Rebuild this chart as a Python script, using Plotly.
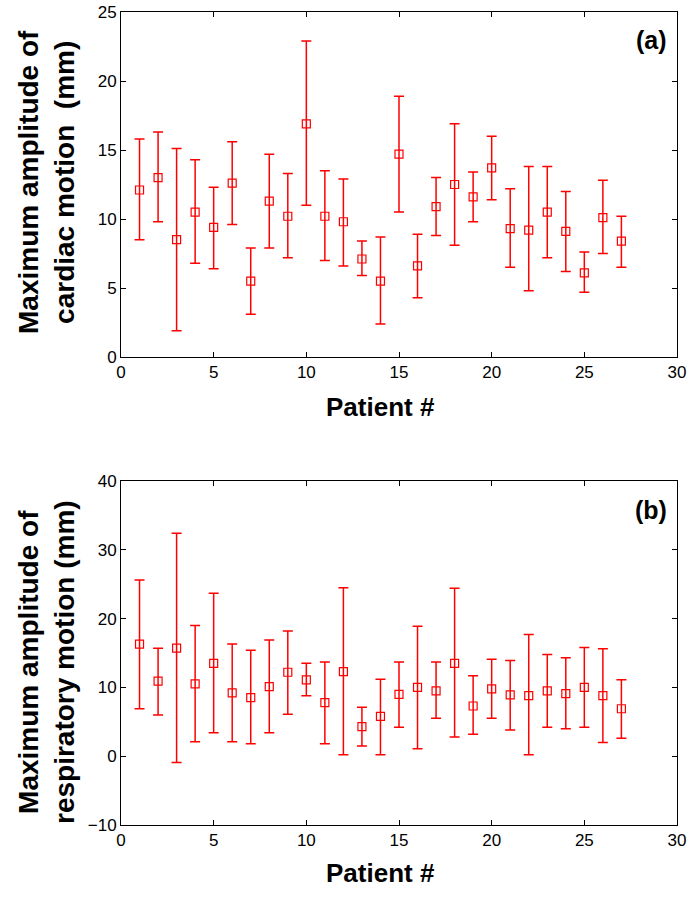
import plotly.graph_objects as go

patients = list(range(1, 28))

# (a) cardiac motion: mean with upper / lower error bar ends (mm)
cardiac_mean = [12.1, 13.0, 8.5, 10.5, 9.4, 12.6, 5.5, 11.3, 10.2, 16.9, 10.2, 9.8, 7.1, 5.5,
                14.7, 6.6, 10.9, 12.5, 11.6, 13.7, 9.3, 9.2, 10.5, 9.1, 6.1, 10.1, 8.4]
cardiac_upper = [15.8, 16.3, 15.1, 14.3, 12.3, 15.6, 7.9, 14.7, 13.3, 22.9, 13.5, 12.9, 8.4, 8.7,
                 18.9, 8.9, 13.0, 16.9, 13.4, 16.0, 12.2, 13.8, 13.8, 12.0, 7.6, 12.8, 10.2]
cardiac_lower = [8.5, 9.8, 1.9, 6.8, 6.4, 9.6, 3.1, 7.9, 7.2, 11.0, 7.0, 6.6, 5.9, 2.4,
                 10.5, 4.3, 8.8, 8.1, 9.8, 11.4, 6.5, 4.8, 7.2, 6.2, 4.7, 7.5, 6.5]

# (b) respiratory motion
resp_mean = [16.3, 10.9, 15.7, 10.5, 13.5, 9.2, 8.5, 10.1, 12.2, 11.1, 7.8, 12.3, 4.3, 5.8,
             9.0, 10.0, 9.5, 13.5, 7.3, 9.8, 8.9, 8.8, 9.5, 9.1, 10.0, 8.8, 6.9]
resp_upper = [25.6, 15.7, 32.4, 19.0, 23.7, 16.3, 15.4, 16.9, 18.2, 13.5, 13.7, 24.5, 7.1, 11.2,
              13.7, 18.9, 13.7, 24.4, 11.7, 14.1, 13.9, 17.7, 14.8, 14.3, 15.8, 15.6, 11.1]
resp_lower = [6.9, 6.0, -0.9, 2.1, 3.4, 2.1, 1.8, 3.4, 6.1, 8.8, 1.8, 0.2, 1.5, 0.2,
              4.2, 1.1, 5.5, 2.8, 3.2, 5.5, 3.8, 0.2, 4.2, 4.0, 4.2, 2.0, 2.6]

W, H = 694, 899
L, R, T, B = 121, 17, 12, 74
PW, PH = W - L - R, H - T - B
red = "#FF0000"


def px_x(px):
    return (px - L) / PW


def px_y(py):
    return 1 - (py - T) / PH


def err(mean, upper, lower):
    return dict(
        type="data",
        symmetric=False,
        array=[u - m for u, m in zip(upper, mean)],
        arrayminus=[m - l for m, l in zip(mean, lower)],
        color=red,
        thickness=1.5,
        width=5,
    )


fig = go.Figure()

fig.add_trace(go.Scatter(
    x=patients, y=cardiac_mean, mode="markers",
    marker=dict(symbol="square-open", size=8, color=red, line=dict(width=1.2, color=red)),
    error_y=err(cardiac_mean, cardiac_upper, cardiac_lower),
    xaxis="x", yaxis="y", showlegend=False,
))

fig.add_trace(go.Scatter(
    x=patients, y=resp_mean, mode="markers",
    marker=dict(symbol="square-open", size=8, color=red, line=dict(width=1.2, color=red)),
    error_y=err(resp_mean, resp_upper, resp_lower),
    xaxis="x2", yaxis="y2", showlegend=False,
))

axis_style = dict(
    showline=True, linecolor="black", linewidth=1,
    mirror="allticks", ticks="inside", ticklen=5, tickcolor="black",
    showgrid=False, zeroline=False, automargin=False,
    tickfont=dict(family="Liberation Sans, Arial", size=17, color="black"),
)

fig.update_layout(
    width=W, height=H,
    margin=dict(l=L, r=R, t=T, b=B),
    paper_bgcolor="white",
    plot_bgcolor="white",
    xaxis=dict(domain=[0, 1], range=[0, 30], dtick=5, anchor="y", **axis_style),
    yaxis=dict(domain=[px_y(357), 1], range=[0, 25], dtick=5, anchor="x", **axis_style),
    xaxis2=dict(domain=[0, 1], range=[0, 30], dtick=5, anchor="y2", **axis_style),
    yaxis2=dict(domain=[0, px_y(481)], range=[-10, 40], dtick=10, anchor="x2", **axis_style),
)

title_font = dict(family="Liberation Sans, Arial", size=28, color="black")
xlab_font = dict(family="Liberation Sans, Arial", size=26, color="black")
tag_font = dict(family="Liberation Sans, Arial", size=25, color="black")

annotations = [
    dict(text="<b>Maximum amplitude of<br>cardiac motion  (mm)</b>", x=px_x(46), y=px_y(182),
         textangle=-90, font=title_font),
    dict(text="<b>Maximum amplitude of<br>respiratory motion (mm)</b>", x=px_x(46), y=px_y(662),
         textangle=-90, font=title_font),
    dict(text="<b>Patient #</b>", x=px_x(380), y=px_y(407), font=xlab_font),
    dict(text="<b>Patient #</b>", x=px_x(380), y=px_y(873), font=xlab_font),
    dict(text="<b>(a)</b>", x=px_x(651), y=px_y(40), font=tag_font),
    dict(text="<b>(b)</b>", x=px_x(651), y=px_y(510), font=tag_font),
]
for a in annotations:
    a.update(xref="paper", yref="paper", showarrow=False, xanchor="center", yanchor="middle")
fig.update_layout(annotations=annotations)

# drop the default 8px page margin so the figure fills the window
fig.write_html("out.html", config={"displayModeBar": False},
               post_script="document.body.style.margin='0';")
